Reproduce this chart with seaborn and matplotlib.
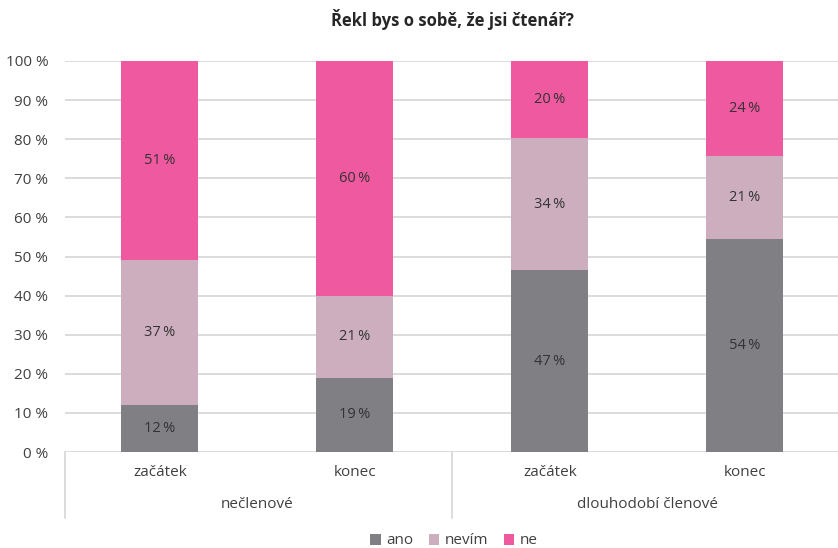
import numpy as np
import pandas as pd
import matplotlib
matplotlib.use("Agg")
import matplotlib.pyplot as plt
import seaborn as sns
from matplotlib.transforms import blended_transform_factory
from matplotlib.lines import Line2D
from matplotlib.patches import Patch

title = "Řekl bys o sobě, že jsi čtenář?"
groups = ["nečlenové", "nečlenové", "dlouhodobí členové", "dlouhodobí členové"]
phases = ["začátek", "konec", "začátek", "konec"]
ano = [12, 19, 47, 54]
nevim = [37, 21, 34, 21]
ne = [51, 60, 20, 24]
series_names = ["ano", "nevím", "ne"]
colors = ["#7f7f84", "#cdaebf", "#ef599f"]
yticks = [0, 10, 20, 30, 40, 50, 60, 70, 80, 90, 100]

sns.set_theme(style="white")
plt.rcParams["font.family"] = ["Open Sans", "DejaVu Sans"]

df = pd.DataFrame({
    "key": [f"{g}|{p}" for g, p in zip(groups, phases)],
    "ano": ano, "nevím": nevim, "ne": ne,
})
# 100 % stacked: each column is scaled to its own total
share = df[series_names].div(df[series_names].sum(axis=1), axis=0) * 100
cum = share.cumsum(axis=1)

W, H = 838, 548
fig = plt.figure(figsize=(W / 100, H / 100), dpi=100)
ax = fig.add_axes([65 / W, 96 / H, (W - 65) / W, 391 / H])

# draw the cumulative layers from the tallest down so each shows its own slice
for name, col in reversed(list(zip(series_names, colors))):
    sns.barplot(x=df["key"], y=cum[name], color=col, width=0.395, ax=ax,
                saturation=1, edgecolor="none", errorbar=None, zorder=3)

for name in series_names:
    for i in range(len(df)):
        v = df.loc[i, name]
        yc = cum.loc[i, name] - share.loc[i, name] / 2
        ax.text(i, yc, f"{v}\u2009%", ha="center", va="center",
                fontsize=10.5, color="#333333", zorder=4)

ax.set_xlim(-0.487, 3.477)
ax.set_ylim(0, 100)
ax.set_yticks(yticks)
ax.set_yticklabels([f"{t} %" for t in yticks], fontsize=11, color="#404040")
ax.tick_params(axis="y", length=0, pad=12)
ax.set_xticks([])
ax.set_xlabel("")
ax.set_ylabel("")
ax.grid(axis="y", color="#d9d9d9", linewidth=1.3, zorder=0)
ax.set_axisbelow(True)
for s in ax.spines.values():
    s.set_visible(False)

# two-level category axis below the bars
tr = blended_transform_factory(ax.transData, fig.transFigure)
y_sub = (H - 473) / H
y_grp = (H - 505) / H
for i, p in enumerate(phases):
    fig.text(i, y_sub, p, transform=tr, ha="center", va="center",
             fontsize=11, color="#404040")
group_names = list(dict.fromkeys(groups))
for gname in group_names:
    idx = [i for i, g in enumerate(groups) if g == gname]
    fig.text(np.mean(idx), y_grp, gname, transform=tr, ha="center",
             va="center", fontsize=11, color="#404040")
for xs in [-0.487, 1.5]:
    fig.add_artist(Line2D([xs, xs], [(H - 452) / H, (H - 518) / H],
                          transform=tr, color="#d9d9d9", linewidth=1.3))

handles = [Patch(facecolor=c, edgecolor="none", label=n)
           for n, c in zip(series_names, colors)]
fig.legend(handles=handles, loc="center", bbox_to_anchor=(454 / W, (H - 541) / H),
           ncol=3, frameon=False, fontsize=11, handlelength=0.7,
           handleheight=0.7, handletextpad=0.35, columnspacing=1.0,
           labelcolor="#404040")

fig.text(452 / W, (H - 19) / H, title, ha="center", va="center",
         fontsize=12, fontweight="bold", color="#262626")

fig.savefig("out.png", dpi=100)
